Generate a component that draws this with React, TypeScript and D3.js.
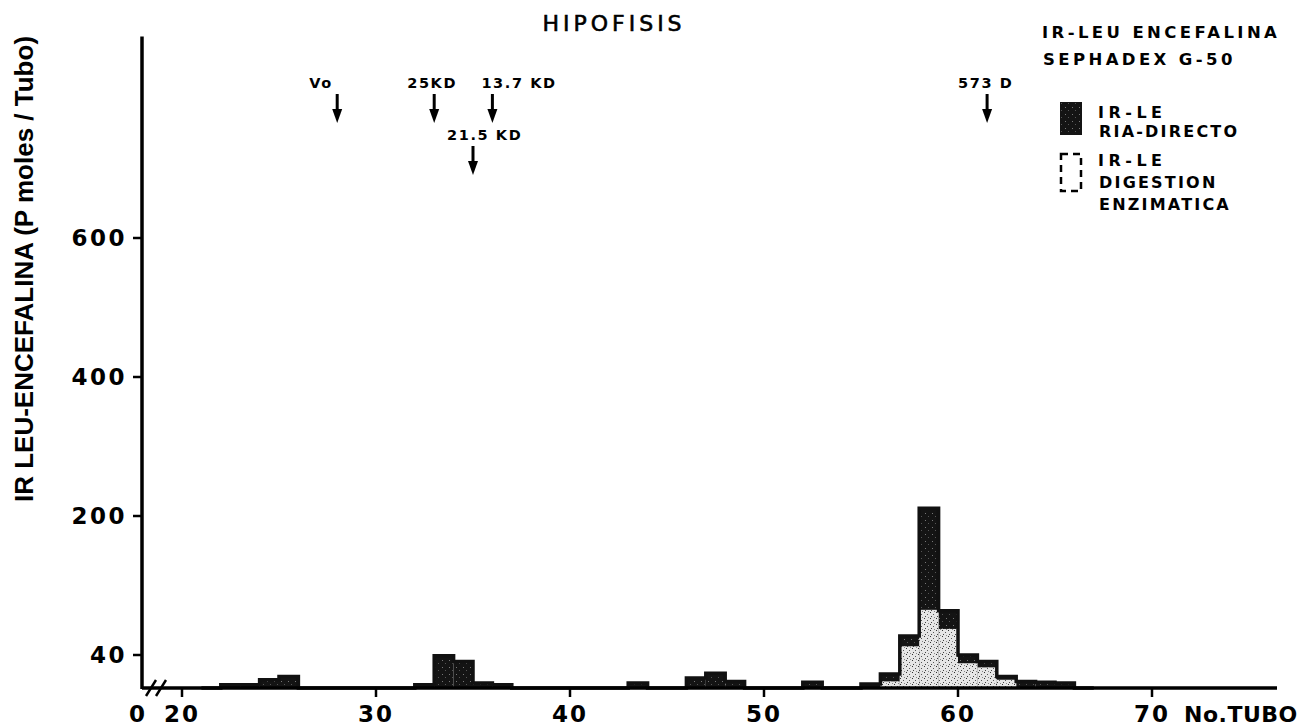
import React from "react";
import * as d3 from "d3";

// IR-LE RIA-directo, tubo -> pmoles
const tubes = [22, 23, 24, 25, 32, 33, 34, 35, 36, 43, 46, 47, 48, 52, 55, 56, 57, 58, 59, 60, 61, 62, 63, 64, 65];
const riaDirecto = [4, 4, 10, 14, 4, 39, 32, 6, 4, 6, 12, 18, 8, 7, 5, 17, 62, 211, 91, 40, 32, 14, 8, 7, 6];

// IR-LE digestion enzimatica (light speckled area inside the peak)
const digTubes = [56, 57, 58, 59, 60, 61, 62];
const digestion = [8, 50, 92, 70, 30, 25, 10];

const xTicks = [20, 30, 40, 50, 60, 70];
const yTicks = [40, 200, 400, 600];

const markerLabels = ["Vo", "25KD", "13.7 KD", "21.5 KD", "573 D"];
const markerTubes = [28, 33, 36, 35, 61.5];
const markerRow = [0, 0, 0, 1, 0];
const markerDx = [-28, -27, -11, -26, -29];

const FONT = "'DejaVu Sans', sans-serif";

export default function App() {
  const width = 1310;
  const height = 726;
  const axisX = 142;
  const base = 688;

  const x = d3.scaleLinear().domain([20, 70]).range([182, 1152]);
  // hand drawn axis: uneven spacing between labels
  const y = d3.scaleLinear().domain([0, 40, 200, 400, 600]).range([base, 655, 516, 377, 238]);
  const yTop = 890;

  const valueOf = new Map(tubes.map((t, i) => [t, riaDirecto[i]]));
  const full = d3.range(21, 68).map((t) => [t, valueOf.get(t) || 0] as [number, number]);
  const outline = d3
    .line<[number, number]>()
    .x((d) => x(d[0]))
    .y((d) => y(d[1]))
    .curve(d3.curveStepAfter)(full);

  const arrow = (cx: number, y0: number) => (
    <g key={`a${cx}-${y0}`}>
      <line x1={cx} x2={cx} y1={y0} y2={y0 + 18} stroke="#000" strokeWidth={3} />
      <path d={`M${cx - 5},${y0 + 15} L${cx + 5},${y0 + 15} L${cx},${y0 + 29} Z`} fill="#000" />
    </g>
  );

  return (
    <svg
      width={width}
      height={height}
      style={{ position: "absolute", left: 0, top: 0, background: "#fff" }}
      fontFamily={FONT}
    >
      <defs>
        <pattern id="dark" width="7" height="7" patternUnits="userSpaceOnUse">
          <rect width="7" height="7" fill="#141414" />
          <rect x="1" y="2" width="1" height="1" fill="#777" />
          <rect x="4" y="5" width="1" height="1" fill="#555" />
        </pattern>
        <pattern id="light" width="6" height="6" patternUnits="userSpaceOnUse">
          <rect width="6" height="6" fill="#e6e6e6" />
          <rect x="0" y="0" width="1" height="1" fill="#333" />
          <rect x="3" y="2" width="1" height="1" fill="#555" />
          <rect x="1" y="4" width="1" height="1" fill="#444" />
          <rect x="4" y="5" width="1" height="1" fill="#888" />
        </pattern>
      </defs>

      <text x={614} y={31} textAnchor="middle" fontSize={22} letterSpacing={4} stroke="#000" strokeWidth={0.6}>
        HIPOFISIS
      </text>

      {/* bars */}
      {tubes.map((t, i) => (
        <rect
          key={t}
          x={x(t)}
          y={y(riaDirecto[i])}
          width={x(t + 1) - x(t)}
          height={base - y(riaDirecto[i])}
          fill="url(#dark)"
        />
      ))}
      {digTubes.map((t, i) => (
        <rect
          key={`d${t}`}
          x={x(t)}
          y={y(digestion[i])}
          width={x(t + 1) - x(t)}
          height={base - y(digestion[i])}
          fill="url(#light)"
        />
      ))}
      <path d={outline || ""} fill="none" stroke="#111" strokeWidth={3.5} />

      {/* axes */}
      <line x1={axisX} x2={axisX} y1={y(yTop)} y2={base + 1} stroke="#000" strokeWidth={3.5} />
      <line x1={axisX} x2={1277} y1={base} y2={base} stroke="#000" strokeWidth={3.5} />
      <line x1={146} x2={156} y1={696} y2={680} stroke="#000" strokeWidth={2.5} />
      <line x1={156} x2={166} y1={696} y2={680} stroke="#000" strokeWidth={2.5} />

      {yTicks.map((v) => (
        <g key={v}>
          <line x1={axisX - 9} x2={axisX} y1={y(v)} y2={y(v)} stroke="#000" strokeWidth={2.5} />
          <text x={axisX - 15} y={y(v)} dy="0.36em" textAnchor="end" fontSize={23} fontWeight="bold" letterSpacing={2.5}>
            {v}
          </text>
        </g>
      ))}
      {xTicks.map((v) => (
        <g key={v}>
          <line x1={x(v)} x2={x(v)} y1={base} y2={base + 9} stroke="#000" strokeWidth={2.5} />
          <text x={x(v)} y={722} textAnchor="middle" fontSize={23} fontWeight="bold" letterSpacing={2}>
            {v}
          </text>
        </g>
      ))}
      <text x={axisX - 5} y={722} textAnchor="middle" fontSize={23} fontWeight="bold">
        0
      </text>
      <text x={1184} y={722} fontSize={22} fontWeight="bold" letterSpacing={0.5}>
        No.TUBO
      </text>

      <text
        transform={`translate(33,269) rotate(-90)`}
        textAnchor="middle"
        fontFamily="'Liberation Sans', Arial, sans-serif"
        fontWeight="bold"
        fontSize={26}
      >
        IR LEU-ENCEFALINA (P moles / Tubo)
      </text>

      {/* elution markers */}
      {markerTubes.map((t, i) => {
        const top = markerRow[i] === 0 ? 94 : 146;
        return (
          <g key={markerLabels[i]}>
            <text x={x(t) + markerDx[i]} y={top - 6} fontSize={14.5} fontWeight="bold" letterSpacing={1.6}>
              {markerLabels[i]}
            </text>
            {arrow(x(t), top)}
          </g>
        );
      })}

      {/* legend */}
      <g fontWeight="bold">
        <text x={1042} y={38} fontSize={16.5} letterSpacing={3.4}>IR-LEU ENCEFALINA</text>
        <text x={1043} y={65} fontSize={16.5} letterSpacing={3.4}>SEPHADEX G-50</text>
        <rect x={1060} y={102} width={22} height={33} fill="url(#dark)" />
        <text x={1098} y={118} fontSize={16} letterSpacing={4.5}>IR-LE</text>
        <text x={1099} y={137} fontSize={16} letterSpacing={2.2}>RIA-DIRECTO</text>
        <rect x={1061} y={154} width={20} height={37} fill="none" stroke="#000" strokeWidth={2.5} strokeDasharray="7 5" />
        <text x={1098} y={166} fontSize={16} letterSpacing={4.5}>IR-LE</text>
        <text x={1099} y={188} fontSize={16} letterSpacing={2.2}>DIGESTION</text>
        <text x={1099} y={210} fontSize={16} letterSpacing={2.2}>ENZIMATICA</text>
      </g>
    </svg>
  );
}
